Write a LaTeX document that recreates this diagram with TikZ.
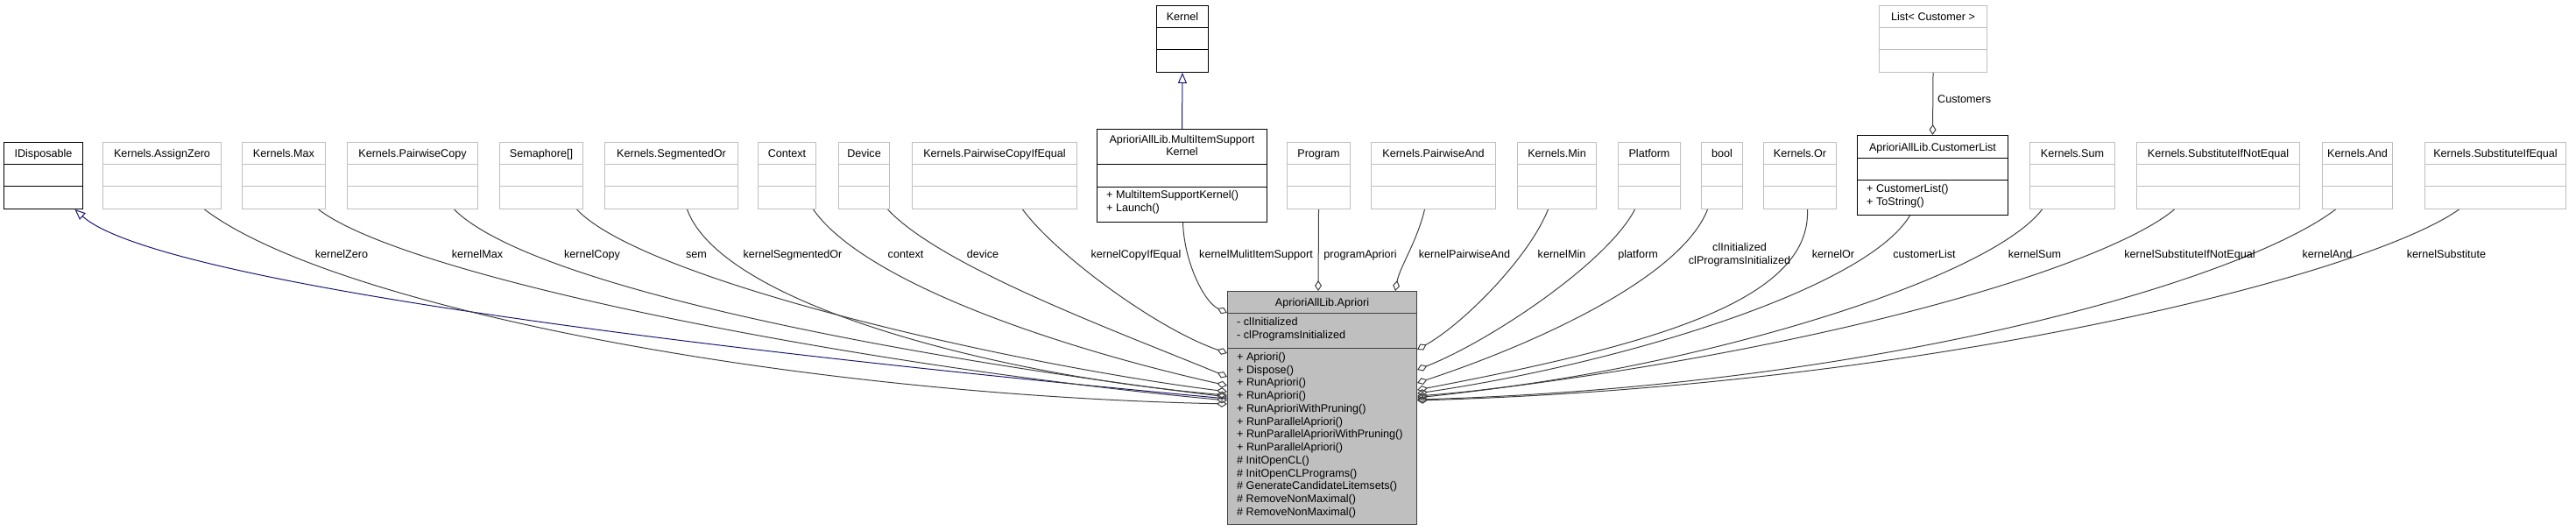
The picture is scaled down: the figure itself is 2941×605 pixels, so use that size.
\documentclass[tikz,border=0pt]{standalone}
\usepackage{fontspec}
\setmainfont{Liberation Sans}
\usetikzlibrary{calc,arrows.meta}
\definecolor{boxgray}{HTML}{BFBFBF}
\definecolor{linegray}{HTML}{404040}
\definecolor{inhblue}{HTML}{191970}

\begin{document}
\begin{tikzpicture}[x=1pt,y=-1pt,font=\fontsize{12.6}{14.75}\selectfont,
    cls/.style={draw=#1,line width=1pt,rectangle,anchor=north west,inner sep=0pt,text height=17pt,text depth=59pt},
    parts/.style n args={3}{path picture={\draw[#3,line width=1pt]
        ([yshift=-#1pt]path picture bounding box.north west)--([yshift=-#1pt]path picture bounding box.north east)
        ([yshift=-#2pt]path picture bounding box.north west)--([yshift=-#2pt]path picture bounding box.north east);}},
    gbox/.style={cls=boxgray,parts={25}{50}{boxgray}},
    bbox/.style={cls=black,parts={25}{50}{black}},
    lbl/.style={inner sep=0pt,text height=9pt,text depth=0pt},
    assoc/.style={draw=linegray,line width=1pt,-{Diamond[open,length=12pt,width=8pt]}},
    inherit/.style={draw=inhblue,line width=1pt,-{Triangle[open,length=12pt,width=10pt]}}]
    \useasboundingbox (0,0) rectangle (2941,605);
    % top row
    \node[bbox,minimum width=90] (idisp) at (4,162) {IDisposable};
    \node[gbox,minimum width=135] (azero) at (117,162) {Kernels.AssignZero};
    \node[gbox,minimum width=95] (kmax) at (276,162) {Kernels.Max};
    \node[gbox,minimum width=149] (pcopy) at (396,162) {Kernels.PairwiseCopy};
    \node[gbox,minimum width=95] (sema) at (570,162) {Semaphore[]};
    \node[gbox,minimum width=152] (segor) at (690,162) {Kernels.SegmentedOr};
    \node[gbox,minimum width=66] (context) at (865,162) {Context};
    \node[gbox,minimum width=58] (device) at (957,162) {Device};
    \node[gbox,minimum width=188] (pcopyeq) at (1041,162) {Kernels.PairwiseCopyIfEqual};
    \node[gbox,minimum width=72] (program) at (1469,162) {Program};
    \node[gbox,minimum width=142] (pand) at (1565,162) {Kernels.PairwiseAnd};
    \node[gbox,minimum width=90] (kmin) at (1732,162) {Kernels.Min};
    \node[gbox,minimum width=71] (platform) at (1847,162) {Platform};
    \node[gbox,minimum width=47] (bool) at (1942,162) {bool};
    \node[gbox,minimum width=83] (kor) at (2013,162) {Kernels.Or};
    \node[gbox,minimum width=97] (ksum) at (2317,162) {Kernels.Sum};
    \node[gbox,minimum width=186] (subne) at (2439,162) {Kernels.SubstituteIfNotEqual};
    \node[gbox,minimum width=80] (kand) at (2651,162) {Kernels.And};
    \node[gbox,minimum width=161] (subeq) at (2768,162) {Kernels.SubstituteIfEqual};
    % upper classes
    \node[bbox,minimum width=59] (kernel) at (1320,6) {Kernel};
    \node[gbox,minimum width=123] (listc) at (2145,6) {List< Customer >};
    \node[cls=black,minimum width=194,text height=0pt,text depth=106pt,parts={40}{66}{black}] (mis) at (1252,147) {};
    \node[align=center,inner sep=0pt] (misT) at ($(mis.north)+(0,19)$) {AprioriAllLib.MultiItemSupport\\Kernel};
    \node[align=left,inner sep=0pt,anchor=west] (misO) at ($(mis.north west)+(11,84)$) {+ MultiItemSupportKernel()\\+ Launch()};
    \node[cls=black,minimum width=172,text height=17.5pt,text depth=73.5pt,parts={26}{51}{black}] (clist) at (2120,154) {AprioriAllLib.CustomerList};
    \node[align=left,inner sep=0pt,anchor=west] (clistO) at ($(clist.north west)+(11,70)$) {+ CustomerList()\\+ ToString()};
    % main class
    \node[cls=linegray,fill=boxgray,minimum width=216,text depth=249pt,parts={25}{65}{linegray}] (apriori) at (1401,332) {AprioriAllLib.Apriori};
    \node[align=left,inner sep=0pt,anchor=west] (aprioriA) at ($(apriori.north west)+(11,43.5)$) {- clInitialized\\- clProgramsInitialized};
    \node[align=left,inner sep=0pt,anchor=west] (aprioriO) at ($(apriori.north west)+(11,164.5)$) {+ Apriori()\\+ Dispose()\\+ RunApriori()\\+ RunApriori()\\+ RunAprioriWithPruning()\\+ RunParallelApriori()\\+ RunParallelAprioriWithPruning()\\+ RunParallelApriori()\\\# InitOpenCL()\\\# InitOpenCLPrograms()\\\# GenerateCandidateLitemsets()\\\# RemoveNonMaximal()\\\# RemoveNonMaximal()};
    % inheritance
    \draw[inherit] (mis.north)--(kernel.south);
    \draw[inherit] ($(apriori.north west)+(0,123)$) .. controls (700,390) and (170,315) .. ([xshift=36]idisp.south);
    % members, left
    \draw[assoc] ([xshift=48.5]azero.south) .. controls (380,350) and (900,450) .. ($(apriori.north west)+(0,129)$);
    \draw[assoc] ([xshift=39.5]kmax.south) .. controls (470,320) and (1000,420) .. ($(apriori.north west)+(0,125)$);
    \draw[assoc] ([xshift=47.5]pcopy.south) .. controls (610,330) and (1050,410) .. ($(apriori.north west)+(0,121)$);
    \draw[assoc] ([xshift=40.5]sema.south) .. controls (735,320) and (1150,415) .. ($(apriori.north west)+(0,115)$);
    \draw[assoc] ([xshift=18]segor.south) .. controls (825,350) and (1150,430) .. ($(apriori.north west)+(0,119)$);
    \draw[assoc] ([xshift=30]context.south) .. controls (985,320) and (1200,395) .. ($(apriori.north west)+(0,108)$);
    \draw[assoc] ([xshift=27]device.south) .. controls (1075,305) and (1280,380) .. ($(apriori.north west)+(0,98)$);
    \draw[assoc] ([xshift=32]pcopyeq.south) .. controls (1205,290) and (1320,375) .. ($(apriori.north west)+(0,71)$);
    \draw[assoc] ([xshift=1]mis.south) .. controls (1352,300) and (1375,345) .. ($(apriori.north west)+(0,25)$);
    % members, top
    \draw[assoc] (program.south)--($(apriori.north west)+(104,0)$);
    \draw[assoc] ([xshift=-10]pand.south) .. controls (1618,275) and (1598,305) .. ($(apriori.north west)+(192,0)$);
    % members, right
    \draw[assoc] ([xshift=-10]kmin.south) .. controls (1745,295) and (1670,370) .. ($(apriori.north east)+(0,67)$);
    \draw[assoc] ([xshift=-16.5]platform.south) .. controls (1835,300) and (1700,390) .. ($(apriori.north east)+(0,90)$);
    \draw[assoc] ([xshift=-16.5]bool.south) .. controls (1920,315) and (1760,390) .. ($(apriori.north east)+(0,105)$);
    \draw[assoc] ([xshift=8.5]kor.south) .. controls (2068,345) and (1880,395) .. ($(apriori.north east)+(0,113)$);
    \draw[assoc] ([xshift=-26]clist.south) .. controls (2130,330) and (1850,415) .. ($(apriori.north east)+(0,117)$);
    \draw[assoc] ([xshift=-34.5]ksum.south) .. controls (2265,325) and (1900,430) .. ($(apriori.north east)+(0,120)$);
    \draw[assoc] ([xshift=-50]subne.south) .. controls (2410,300) and (2100,400) .. ($(apriori.north east)+(0,122)$);
    \draw[assoc] ([xshift=-25]kand.south) .. controls (2560,320) and (2150,440) .. ($(apriori.north east)+(0,124)$);
    \draw[assoc] ([xshift=-41.5]subeq.south) .. controls (2700,315) and (2200,440) .. ($(apriori.north east)+(0,125)$);
    \draw[assoc] (listc.south)--(clist.north);
    % labels
    \node[lbl] (lZero) at (390,290) {kernelZero};
    \node[lbl] (lMax) at (545,290) {kernelMax};
    \node[lbl] (lCopy) at (676,290) {kernelCopy};
    \node[lbl] (lSem) at (795,290) {sem};
    \node[lbl] (lSegOr) at (905,290) {kernelSegmentedOr};
    \node[lbl] (lContext) at (1034,290) {context};
    \node[lbl] (lDevice) at (1122,290) {device};
    \node[lbl] (lCopyEq) at (1297,290) {kernelCopyIfEqual};
    \node[lbl] (lMulti) at (1434,290) {kernelMulitItemSupport};
    \node[lbl] (lProgram) at (1553,290) {programApriori};
    \node[lbl] (lPAnd) at (1672,290) {kernelPairwiseAnd};
    \node[lbl] (lMin) at (1783,290) {kernelMin};
    \node[lbl] (lPlatform) at (1870,290) {platform};
    \node[align=center,inner sep=0pt] (lInit) at (1986,291) {clInitialized\\clProgramsInitialized};
    \node[lbl] (lOr) at (2093,290) {kernelOr};
    \node[lbl] (lCustList) at (2197,290) {customerList};
    \node[lbl] (lSum) at (2323,290) {kernelSum};
    \node[lbl] (lSubNe) at (2500,290) {kernelSubstituteIfNotEqual};
    \node[lbl] (lAnd) at (2657,290) {kernelAnd};
    \node[lbl] (lSub) at (2793,290) {kernelSubstitute};
    \node[lbl,anchor=west] (lCustomers) at (2212,113) {Customers};
\end{tikzpicture}
\end{document}
